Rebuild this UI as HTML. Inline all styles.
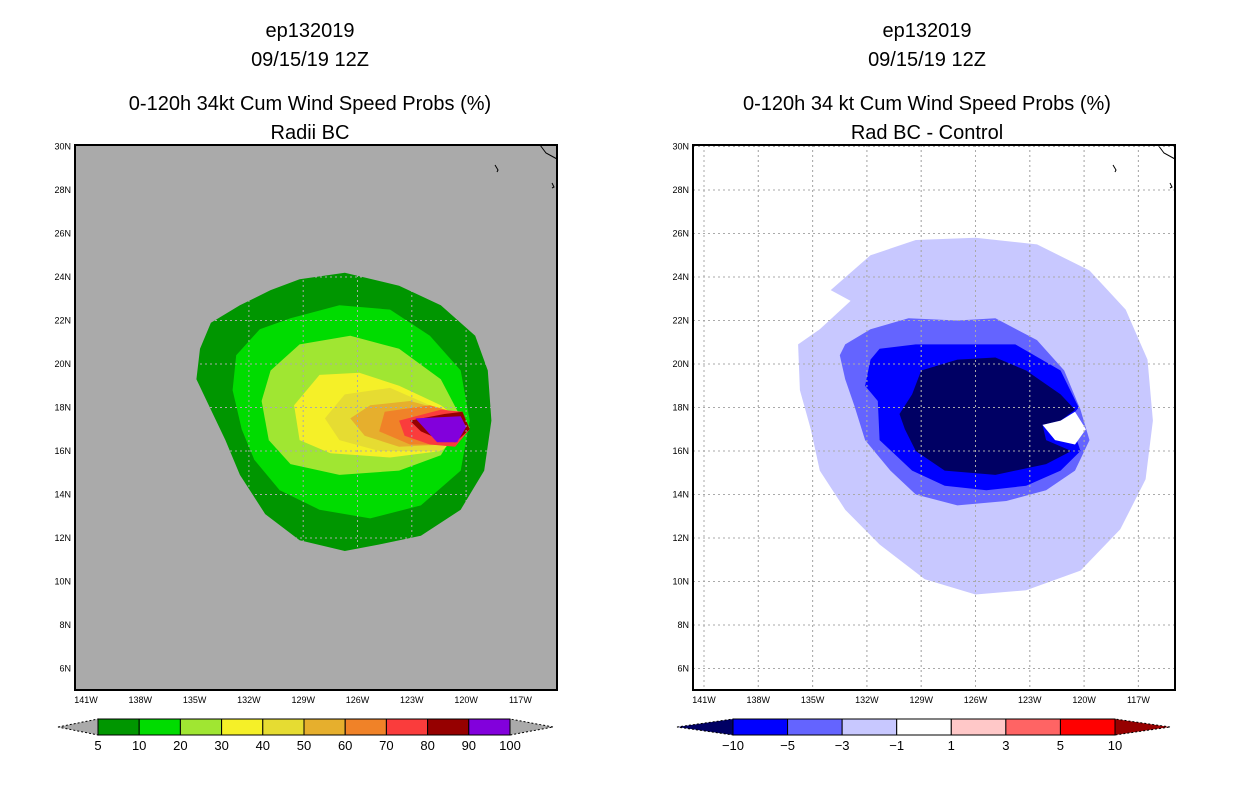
<!DOCTYPE html>
<html><head><meta charset="utf-8"><style>
html,body{margin:0;padding:0;background:#fff;}
svg{display:block;font-family:"Liberation Sans",sans-serif;}
</style></head><body>
<svg id="fig" width="1236" height="800" viewBox="0 0 1236 800">
<g font-size="20" text-anchor="middle" fill="#000">
<text x="310" y="37">ep132019</text><text x="310" y="66">09/15/19 12Z</text>
<text x="310" y="110">0-120h 34kt Cum Wind Speed Probs (%)</text><text x="310" y="139">Radii BC</text></g>
<g font-size="20" text-anchor="middle" fill="#000">
<text x="927" y="37">ep132019</text><text x="927" y="66">09/15/19 12Z</text>
<text x="927" y="110">0-120h 34 kt Cum Wind Speed Probs (%)</text><text x="927" y="139">Rad BC - Control</text></g>
<g id="left"></g>
<g id="right"></g>
<g id="cbL"></g>
<g id="cbR"></g>
</svg>
<script>
// Axis ticks
const lonTicks=[141,138,135,132,129,126,123,120,117];
const latTicks=[30,28,26,24,22,20,18,16,14,12,10,8,6];
// Left panel contours (lonW, lat pairs), probability bins
const probLevels=[5,10,20,30,40,50,60,70,80,90,100];
const probColors=['#009600','#00dc00','#a0e632','#f5f028','#e6dc32','#e6af2d','#f08228','#fa3c3c','#960000','#8200dc'];
const c5=[130.8,23.4,129.2,23.9,126.7,24.2,123.7,23.6,121.4,22.7,119.5,21.3,118.8,19.7,118.6,17.4,119.0,15.1,120.3,13.3,122.5,12.1,124.8,11.7,126.7,11.4,129.2,11.9,131.1,13.1,132.5,14.9,133.3,16.5,134.1,17.9,134.9,19.3,134.7,20.7,134.1,21.9,132.5,22.7];
const c10=[129.7,22.1,127.0,22.7,124.2,22.5,122.0,21.3,120.3,19.7,119.8,17.4,120.3,15.1,122.5,13.5,125.3,12.9,128.1,13.3,130.3,14.2,131.7,15.6,132.4,17.0,132.9,18.8,132.7,20.4,131.4,21.6];
const c20=[129.2,20.9,126.4,21.3,123.7,20.7,121.4,19.3,120.2,17.4,121.4,15.8,123.7,15.1,127.0,14.9,129.7,15.4,130.9,16.5,131.3,18.3,130.8,19.7];
const c30=[128.1,19.5,125.9,19.6,123.7,19.0,121.4,18.1,119.8,17.1,121.4,16.0,124.2,15.7,127.5,15.9,129.2,16.5,129.5,18.1];
const c40=[126.7,18.6,124.2,18.9,122.0,18.1,120.1,17.2,121.4,16.0,124.8,16.0,127.0,16.5,127.8,17.5];
const c50=[125.3,18.1,123.1,18.3,120.9,17.8,119.9,17.1,121.2,16.3,123.7,16.2,125.6,16.7,126.4,17.5];
const c60=[124.5,17.8,122.0,18.1,120.3,17.7,119.8,17.0,120.9,16.3,123.1,16.3,124.8,16.9];
const c70=[123.7,17.4,121.4,17.9,120.2,17.8,119.8,17.0,120.6,16.2,122.0,16.3,123.4,16.7];
const c80=[123.1,17.4,121.2,17.7,120.2,17.8,119.8,17.0,120.6,16.4,121.4,16.5,122.5,16.9];
const c90=[122.8,17.5,120.3,17.6,120.0,17.1,120.5,16.4,121.6,16.4];
const probContours=[c5,c10,c20,c30,c40,c50,c60,c70,c80,c90];
// Right panel difference contours
const diffLevels=[-10,-5,-3,-1,1,3,5,10];
const diffColors=['#000064','#0000ff','#6464ff','#c8c8ff','#ffffff','#ffc8c8','#ff6464','#ff0000','#960000'];
const dM1=[134.0,23.4,131.8,25.0,129.3,25.7,126.0,25.8,122.6,25.5,119.7,24.3,117.7,22.5,116.5,20.2,116.2,17.4,116.6,14.7,118.0,12.4,120.2,10.5,123.2,9.6,126.0,9.4,128.8,10.1,131.3,11.7,133.2,13.3,134.6,15.1,135.1,17.0,135.7,18.8,135.8,20.9,134.6,21.6,132.9,22.9];
const dM3=[133.2,20.9,131.8,21.6,129.7,22.1,127.0,22.0,124.9,22.1,122.6,21.1,121.1,19.7,120.2,17.9,119.7,16.5,120.5,15.1,122.1,14.2,124.3,13.7,127.0,13.5,129.3,14.0,130.7,15.1,132.1,16.5,132.7,18.1,133.2,19.3,133.5,20.4];
const dM5=[131.3,20.7,129.3,20.9,126.5,20.9,123.8,20.9,121.3,19.7,120.3,18.0,120.8,17.5,120.2,16.0,121.3,15.1,123.2,14.4,125.4,14.2,127.7,14.4,129.5,15.1,131.3,16.5,131.4,18.3,132.1,19.0,131.8,20.2];
const dM10=[129.0,19.7,127.0,20.2,124.9,20.3,123.2,19.7,121.3,18.6,120.5,17.9,121.3,17.4,122.3,17.2,122.1,16.5,120.7,16.0,122.1,15.4,124.9,14.9,127.7,15.1,129.3,16.0,129.9,17.0,130.2,17.7,129.5,18.6];
const dHole=[122.3,17.2,121.3,17.4,120.5,17.8,119.9,17.0,120.5,16.3,121.6,16.5];
const diffContours=[[dM1,'#c8c8ff'],[dM3,'#6464ff'],[dM5,'#0000ff'],[dM10,'#000064'],[dHole,'#ffffff']];

const NS='http://www.w3.org/2000/svg';
function mk(tag,attrs,parent){const e=document.createElementNS(NS,tag);for(const k in attrs)e.setAttribute(k,attrs[k]);parent.appendChild(e);return e;}
const X0=75,X1=557,Y0=145,Y1=690;
function xs(lon,off){return 86+(141-lon)*18.1+off;}
function ys(lat){return 146.5+(30-lat)*21.75;}
function ptsOf(arr,off){let s=[];for(let i=0;i<arr.length;i+=2)s.push(xs(arr[i],off).toFixed(1)+','+ys(arr[i+1]).toFixed(1));return s.join(' ');}

function panel(g,off,bg,id){
  const cp=mk('clipPath',{id:'clip'+id},g);
  mk('rect',{x:X0+off,y:Y0,width:X1-X0,height:Y1-Y0},cp);
  const bgr=mk('rect',{x:X0+off,y:Y0,width:X1-X0,height:Y1-Y0,fill:bg},g);
  
  
  const cg=mk('g',{'clip-path':'url(#clip'+id+')'},g);
  return cg;
}
function decorate(g,off){
  const gl=mk('g',{stroke:'#aaaaaa','stroke-width':1,'stroke-dasharray':'2,3'},g);
  
  
  lonTicks.forEach(l=>{const x=xs(l,off);mk('line',{x1:x,x2:x,y1:Y0,y2:Y1},gl);});
  latTicks.forEach(l=>{const y=ys(l);mk('line',{x1:X0+off,x2:X1+off,y1:y,y2:y},gl);});
  // coastline & island
  const cs=mk('polyline',{points:(540+off)+',145 '+(546+off)+',153 '+(557+off)+',159',fill:'none',stroke:'#000','stroke-width':1},g);
  
  
  mk('polyline',{points:(495+off)+',165 '+(498+off)+',170 '+(497+off)+',172',fill:'none',stroke:'#000','stroke-width':1},g);
  mk('polyline',{points:(552+off)+',183 '+(554+off)+',187 '+(552+off)+',188',fill:'none',stroke:'#000','stroke-width':1},g);
  const fr=mk('rect',{x:X0+off,y:Y0,width:X1-X0,height:Y1-Y0,fill:'none',stroke:'#000','stroke-width':2},g);
  
  
  const tg=mk('g',{'font-size':9,fill:'#000'},g);
  
  
  lonTicks.forEach(l=>{const t=mk('text',{x:xs(l,off),y:703,'text-anchor':'middle'},tg);t.textContent=l+'W';});
  latTicks.forEach(l=>{const t=mk('text',{x:X0+off-4,y:ys(l)+3,'text-anchor':'end'},tg);t.textContent=l+'N';});
}
// Left panel
const L=document.getElementById('left');
const lcg=panel(L,0,'#aaaaaa','L');
probContours.forEach((c,i)=>{
  const p=mk('polygon',{points:ptsOf(c,0),fill:probColors[i]},lcg);
  
  
});
decorate(L,0);
// Right panel
const R=document.getElementById('right');
const rcg=panel(R,618,'#ffffff','R');
decorate(R,618);
diffContours.forEach((d,i)=>{
  const p=mk('polygon',{points:ptsOf(d[0],618),fill:d[1]},rcg);
  
  
});
// redraw grid over right fills
(function(){const gl=mk('g',{stroke:'#aaaaaa','stroke-width':1,'stroke-dasharray':'2,3',opacity:0.6},R);
lonTicks.forEach(l=>{const x=xs(l,618);mk('line',{x1:x,x2:x,y1:Y0,y2:Y1},gl);});
latTicks.forEach(l=>{const y=ys(l);mk('line',{x1:X0+618,x2:X1+618,y1:y,y2:y},gl);});
mk('rect',{x:X0+618,y:Y0,width:X1-X0,height:Y1-Y0,fill:'none',stroke:'#000','stroke-width':2},R);})();

// Colorbars
function colorbar(g,x0,x1,colors,labels,triL,triR,lc,rc){
  const n=colors.length,w=(x1-x0)/n,yt=719,yb=735,ym=727;
  const tl=mk('polygon',{points:(x0-triL)+','+ym+' '+x0+','+yt+' '+x0+','+yb,fill:lc,stroke:'#000','stroke-width':1,'stroke-dasharray':'2,2'},g);
  
  
  const tr=mk('polygon',{points:(x1+triR)+','+ym+' '+x1+','+yt+' '+x1+','+yb,fill:rc,stroke:'#000','stroke-width':1,'stroke-dasharray':'2,2'},g);
  
  
  colors.forEach((c,i)=>{
    const r=mk('rect',{x:x0+i*w,y:yt,width:w,height:yb-yt,fill:c,stroke:'#000','stroke-width':1},g);
    
    
  });
  labels.forEach((l,i)=>{
    const t=mk('text',{x:x0+i*w,y:750,'text-anchor':'middle','font-size':13,fill:'#000'},g);
    
    
    t.textContent=l;
  });
}
colorbar(document.getElementById('cbL'),98,510,probColors,probLevels,40,43,'#aaaaaa','#aaaaaa');
colorbar(document.getElementById('cbR'),733,1115,diffColors.slice(1,8),diffLevels.map(v=>v<0?'\u2212'+(-v):''+v),56,55,diffColors[0],diffColors[8]);
</script>
</body></html>
